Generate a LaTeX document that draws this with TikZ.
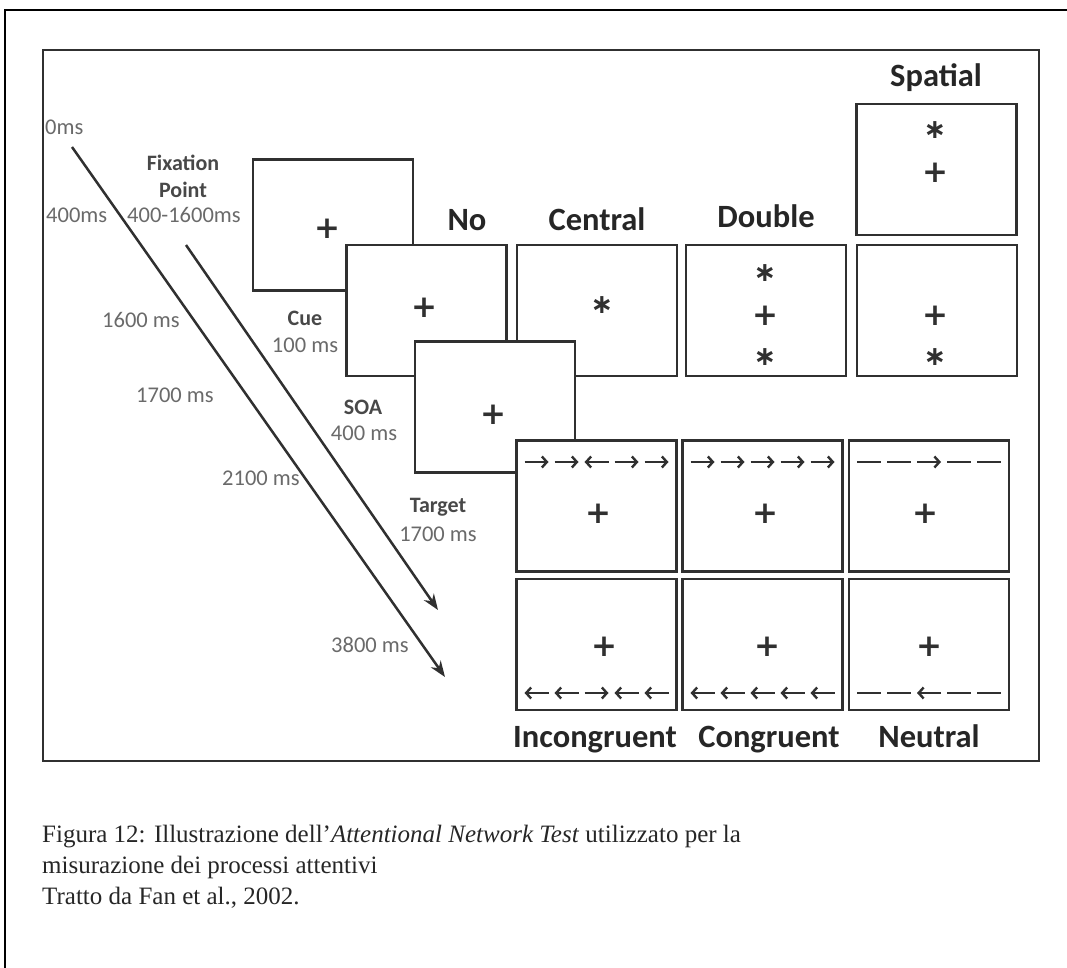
\documentclass[tikz,border=0pt]{standalone}
\usepackage{fontspec}
\setmainfont{Liberation Serif}
\newfontfamily\calibri{Carlito}
\newfontfamily\symfont{DejaVu Sans}
\usetikzlibrary{positioning, arrows.meta}
\definecolor{boxline}{HTML}{303030}
\definecolor{msgray}{HTML}{6A6A6A}
\definecolor{lblgray}{HTML}{484848}

\begin{document}
\begin{tikzpicture}[
    x=1pt, y=-1pt,
    screen/.style={
        draw=boxline,
        fill=white,
        line width=2.5pt,
        minimum width=160pt,
        minimum height=131pt,
        inner sep=0pt
    },
    msgtext/.style={
        font=\calibri\fontsize{22.5}{25}\selectfont,
        text=msgray,
        inner sep=0pt
    },
    eventlbl/.style={
        font=\calibri\bfseries\fontsize{22}{27}\selectfont,
        text=lblgray,
        align=center,
        inner sep=0pt
    },
    condlbl/.style={
        font=\calibri\bfseries\fontsize{32.5}{36}\selectfont,
        text=black!85,
        anchor=base,
        inner sep=0pt
    },
    plusmark/.style={
        font=\symfont\bfseries\fontsize{31}{31}\selectfont,
        text=boxline,
        anchor=base, yshift=-10.5pt,
        inner sep=0pt
    },
    starmark/.style={
        font=\symfont\bfseries\fontsize{27}{27}\selectfont,
        text=boxline,
        anchor=base, yshift=-8.7pt,
        inner sep=0pt
    },
    timearrow/.style={
        draw=boxline,
        line width=2.5pt,
        -{Stealth[length=16pt, width=12pt]}
    },
    flank/.style={
        draw=boxline,
        line width=2.4pt
    },
    caption/.style={
        font=\fontsize{25}{31}\selectfont,
        text=black!85,
        anchor=base west,
        inner sep=0pt
    }
]
\useasboundingbox (0,0) rectangle (1067,968);

% Frames
\draw [line width=2pt] (5,968) |- (1067,10);
\draw [draw=boxline, line width=2.5pt] (43,50) rectangle (1039,761);

% Time arrows
\coordinate (tstart) at (72,147);
\coordinate (tend)   at (445,677);
\coordinate (sstart) at (186,245);
\coordinate (send)   at (438,610);
\draw [timearrow] (tstart) -- (tend);
\draw [timearrow] (sstart) -- (send);

% Time labels
\node (t0)    at (45,127)  [msgtext, anchor=west] {0ms};
\node (t400)  at (46,215)  [msgtext, anchor=west] {400ms};
\node (tfix)  at (127,215) [msgtext, anchor=west] {400-1600ms};
\node (t1600) at (102,320) [msgtext, anchor=west] {1600 ms};
\node (t1700) at (136,395) [msgtext, anchor=west] {1700 ms};
\node (t2100) at (222,478) [msgtext, anchor=west] {2100 ms};
\node (t3800) at (331,645) [msgtext, anchor=west] {3800 ms};

% Event labels
\node (fixlbl) at (183,176) [eventlbl] {Fixation\\Point};
\node (cuelbl) at (305,318) [eventlbl] {Cue};
\node (cuems)  at (305,345) [msgtext] {100 ms};
\node (soalbl) at (363,407) [eventlbl] {SOA};
\node (soams)  at (364,433) [msgtext] {400 ms};
\node (tgtlbl) at (438,507) [eventlbl] {Target};
\node (tgtms)  at (438,534) [msgtext] {1700 ms};

% Cue screens
\node (fix)    at (333,225)     [screen] {};
\node (nocue)  at (426.5,310.5) [screen] {};
\node (center) at (597,310.5)   [screen] {};
\node (double) at (766,310.5)   [screen] {};
\node (spatlo) at (937,310.5)   [screen] {};
\node (spatup) at (936.5,169.5) [screen] {};

\node (fixplus)   at (327,228) [plusmark] {+};
\node (cueplus)   at (424,307) [plusmark] {+};
\node (censtar)   at (602,305) [starmark] {∗};
\node (dblstar1)  at (765,273) [starmark] {∗};
\node (dblplus)   at (765,315) [plusmark] {+};
\node (dblstar2)  at (765,357) [starmark] {∗};
\node (spustar)   at (935,130) [starmark] {∗};
\node (spuplus)   at (935,172) [plusmark] {+};
\node (splplus)   at (935,315) [plusmark] {+};
\node (splstar)   at (935,357) [starmark] {∗};

% Target screens
\node (target)  at (495,407) [screen] {};
\node (tgtplus) at (493,414) [plusmark] {+};

\node (incup) at (596.5,506)   [screen] {};
\node (conup) at (762.5,506)   [screen] {};
\node (neuup) at (929,506)     [screen] {};
\node (incdn) at (596.5,644.5) [screen] {};
\node (condn) at (762.5,644.5) [screen] {};
\node (neudn) at (929,644.5)   [screen] {};

\node (incupplus) at (598,513) [plusmark] {+};
\node (conupplus) at (765,513) [plusmark] {+};
\node (neuupplus) at (925,513) [plusmark] {+};
\node (incdnplus) at (604,646) [plusmark] {+};
\node (condnplus) at (767,646) [plusmark] {+};
\node (neudnplus) at (929,646) [plusmark] {+};

% Flanker rows (1 right, -1 left, 0 dash)
\foreach \cx/\cy/\dirs in {596.5/462/{1,1,-1,1,1}, 762.5/462/{1,1,1,1,1}, 929/462/{0,0,1,0,0},
                           596.5/693/{-1,-1,1,-1,-1}, 762.5/693/{-1,-1,-1,-1,-1}, 929/693/{0,0,-1,0,0}}
  \foreach \d [count=\i from 0] in \dirs {
    \ifnum\d=0
      \draw [flank] (\cx-72+30*\i,\cy) -- ++(24,0);
    \else
      \draw [flank, -{Straight Barb[length=5pt, width=11pt]}] (\cx-60+30*\i-12*\d,\cy) -- ++(24*\d,0);
    \fi
  };

% Condition labels
\node (nolbl)   at (467,230) [condlbl] {No};
\node (cenlbl)  at (597,230) [condlbl] {Central};
\node (dbllbl)  at (766,228) [condlbl] {Double};
\node (spalbl)  at (936,87)  [condlbl] {Spatial};
\node (inclbl)  at (595,747) [condlbl] {Incongruent};
\node (conlbl)  at (769,747) [condlbl] {Congruent};
\node (neulbl)  at (929,747) [condlbl] {Neutral};

% Caption
\node (cap1) at (42,842) [caption] {Figura 12: Illustrazione dell'\textit{Attentional Network Test} utilizzato per la};
\node (cap2) at (42,873) [caption] {misurazione dei processi attentivi};
\node (cap3) at (42,904) [caption] {Tratto da Fan et al., 2002.};

\end{tikzpicture}
\end{document}
